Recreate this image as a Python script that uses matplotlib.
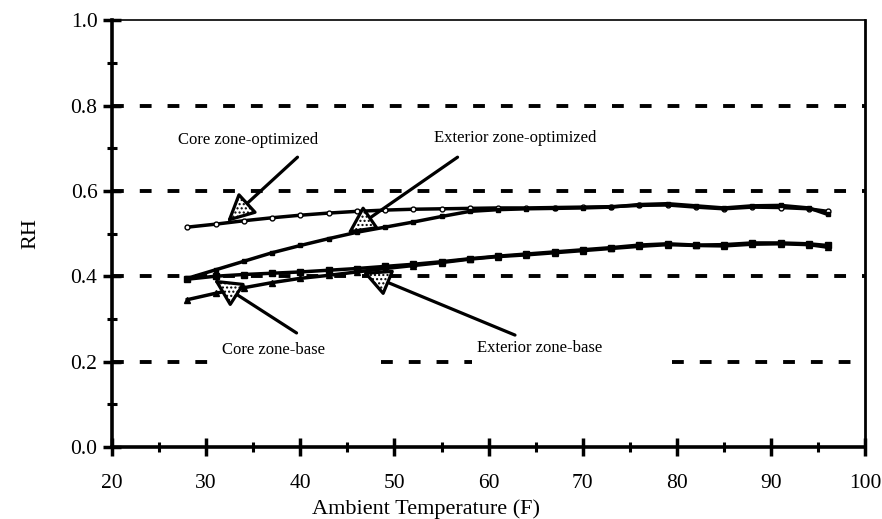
import matplotlib
matplotlib.use("Agg")
import matplotlib.pyplot as plt
from matplotlib.ticker import MultipleLocator

plt.rcParams['font.family'] = ['Liberation Serif', 'DejaVu Serif']
plt.rcParams['lines.scale_dashes'] = False

# ambient temperature (F)
temps = [28, 31, 34, 37, 40, 43, 46, 49, 52, 55, 58, 61, 64, 67, 70, 73, 76, 79, 82, 85, 88, 91, 94, 96]

core_opt = [0.515, 0.522, 0.530, 0.537, 0.543, 0.548, 0.552, 0.555, 0.557, 0.558, 0.559, 0.560,
            0.560, 0.561, 0.562, 0.563, 0.566, 0.567, 0.562, 0.558, 0.562, 0.561, 0.558, 0.552]
ext_opt = [0.395, 0.415, 0.435, 0.455, 0.472, 0.488, 0.503, 0.515, 0.527, 0.540, 0.552, 0.556,
           0.558, 0.559, 0.560, 0.562, 0.568, 0.570, 0.565, 0.560, 0.565, 0.566, 0.560, 0.545]
core_base = [0.345, 0.360, 0.373, 0.385, 0.395, 0.402, 0.410, 0.418, 0.425, 0.432, 0.440, 0.446,
             0.450, 0.455, 0.460, 0.465, 0.470, 0.474, 0.472, 0.471, 0.475, 0.476, 0.474, 0.468]
ext_base = [0.393, 0.400, 0.404, 0.407, 0.410, 0.414, 0.418, 0.423, 0.428, 0.434, 0.441, 0.447,
            0.452, 0.457, 0.462, 0.467, 0.473, 0.476, 0.473, 0.474, 0.478, 0.478, 0.476, 0.472]

fig = plt.figure(figsize=(8.82, 5.19), dpi=100)
ax = fig.add_axes([0.127, 0.139, 0.854, 0.822])

# dashed reference lines (0.2 one is broken where the labels sit)
dash = dict(color='black', lw=2.8, dashes=(8.5, 11.5), zorder=1)
for yv in [0.4, 0.6, 0.8]:
    ax.axhline(yv, **dash)
for x0, x1 in [(20, 30.5), (48.6, 58.2), (79.5, 100)]:
    ax.plot([x0, x1], [0.2, 0.2], **dash)

ax.plot(temps, core_opt, color='black', lw=2.5, marker='o', ms=3.5, mfc='white', zorder=3)
ax.plot(temps, ext_opt, color='black', lw=2.5, marker='s', ms=3, zorder=3)
ax.plot(temps, core_base, color='black', lw=2.5, marker='^', ms=4, zorder=3)
ax.plot(temps, ext_base, color='black', lw=2.5, marker='s', ms=4, zorder=3)

arrow = dict(arrowstyle='-|>,head_length=0.9,head_width=0.45', mutation_scale=19,
             lw=2.3, color='black', fc='white', hatch='....', shrinkA=0, shrinkB=0)
ax.annotate('', xy=(32.2, 0.527), xytext=(39.7, 0.679), arrowprops=arrow, zorder=4)
ax.annotate('', xy=(45.0, 0.500), xytext=(56.7, 0.679), arrowprops=arrow, zorder=4)
ax.annotate('', xy=(30.8, 0.392), xytext=(39.6, 0.267), arrowprops=arrow, zorder=4)
ax.annotate('', xy=(46.6, 0.410), xytext=(62.8, 0.262), arrowprops=arrow, zorder=4)

ax.text(34.4, 0.719, 'Core zone-optimized', ha='center', va='center', fontsize=12)
ax.text(62.8, 0.724, 'Exterior zone-optimized', ha='center', va='center', fontsize=12)
ax.text(37.1, 0.227, 'Core zone-base', ha='center', va='center', fontsize=12)
ax.text(65.4, 0.232, 'Exterior zone-base', ha='center', va='center', fontsize=12)

ax.set_xlim(20, 100)
ax.set_ylim(0, 1.0)
ax.xaxis.set_major_locator(MultipleLocator(10))
ax.xaxis.set_minor_locator(MultipleLocator(5))
ax.yaxis.set_major_locator(MultipleLocator(0.2))
ax.yaxis.set_minor_locator(MultipleLocator(0.1))
ax.yaxis.set_major_formatter(plt.FormatStrFormatter('%.1f'))
ax.tick_params(which='major', direction='inout', length=13, width=2.5, labelsize=15.5)
ax.tick_params(which='minor', direction='inout', length=7, width=2.2)
ax.tick_params(axis='x', which='major', pad=13)
ax.tick_params(axis='y', which='major', pad=4)

ax.spines['left'].set_linewidth(2.6)
ax.spines['bottom'].set_linewidth(2.6)
ax.spines['top'].set_linewidth(1.2)
ax.spines['right'].set_linewidth(2.0)

ax.set_xlabel('Ambient Temperature (F)', fontsize=16, va='center')
ax.xaxis.set_label_coords(0.417, -0.146)
ax.set_ylabel('RH', fontsize=16, va='center')
ax.yaxis.set_label_coords(-0.108, 0.5)

fig.savefig('out.png', dpi=100)
